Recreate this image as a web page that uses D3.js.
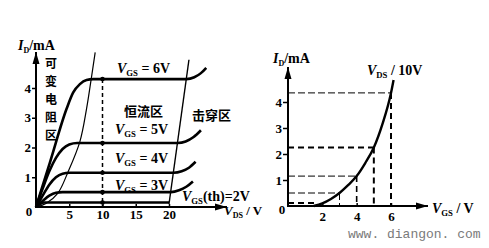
<!DOCTYPE html>
<html>
<head>
<meta charset="utf-8">
<script src="https://cdn.jsdelivr.net/npm/d3@7"></script>
<style>
  body { margin: 0; background: #fff; }
  svg { display: block; }
  .lbl { font-family: "Liberation Serif", "DejaVu Serif", serif; font-weight: bold; fill: #000; }
  .cn { font-family: "Noto Sans CJK SC", sans-serif; font-weight: bold; fill: #000; }
  .tick text { font-family: "Liberation Serif", serif; font-weight: bold; font-size: 13px; fill: #000; }
  .tick line { stroke: #000; stroke-width: 1.5; }
  .wm { font-family: "Liberation Mono", monospace; font-size: 13px; fill: #7a7a7a; }
</style>
</head>
<body>
<svg id="chart" width="489" height="248"></svg>
<script>
// ── DATA: output characteristics, I_D (mA) vs V_DS (V) ─────────────────
const vdsTicks = [5, 10, 15, 20];
const idTicks = [1, 2, 3, 4];
const vgs6 = [[0,0],[2.1,1.5],[4.6,3.3],[5.6,3.85],[6.6,4.13],[7.6,4.27],[8.6,4.3],[22.6,4.3],[23.8,4.36],[24.8,4.5],[25.6,4.68]];
const vgs5 = [[0,0],[1,0.62],[2,1.2],[3,1.65],[4,1.95],[5,2.1],[6.2,2.15],[21.3,2.15],[22.5,2.2],[23.7,2.35],[24.8,2.58]];
const vgs4 = [[0,0],[1,0.38],[2,0.75],[3,1.0],[4,1.12],[5,1.15],[20.7,1.15],[21.9,1.2],[23,1.32],[24,1.52]];
const vgs3 = [[0,0],[1,0.2],[2,0.38],[3,0.48],[4,0.5],[20.3,0.5],[21.5,0.56],[22.6,0.68],[23.6,0.86]];
const vgs2 = [[0,0],[0.6,0.1],[1.3,0.15],[20,0.15]];
const pinchOff = [[0,0],[1.5,0.12],[3.3,0.47],[4.8,1.17],[6.6,2.2],[7.6,3.3],[8.3,4.3],[8.9,5.2]];
const breakdown = [[20,0.1],[23,4.95]];
const vdsMark = 10;
const markIds = [4.3, 2.15, 1.15, 0.5, 0.15];

// ── DATA: transfer characteristic, I_D (mA) vs V_GS (V) at V_DS = 10V ──
const vgsTicks = [2, 4, 6];
const transferVgs = [1.5, 2, 2.5, 3, 3.5, 4, 4.5, 5, 5.5, 6, 6.15];
const transferId  = [0, 0.1, 0.27, 0.5, 0.8, 1.15, 1.65, 2.25, 3.15, 4.35, 4.85];
const guideVgs = [1.7, 3, 4, 5, 6];
const guideId  = [0.12, 0.5, 1.15, 2.25, 4.35];

const svg = d3.select('#chart');
const fmt = d3.format('d');

// ── LEFT CHART ─────────────────────────────────────────────────────────
const xL = d3.scaleLinear().domain([0, 20]).range([36, 169]);
const yL = d3.scaleLinear().domain([0, 4]).range([207, 88]);
const gL = svg.append('g');

const lineL = d3.line().x(d => xL(d[0])).y(d => yL(d[1])).curve(d3.curveMonotoneX);

// vertical dashed line at V_DS = 10
gL.append('line')
  .attr('x1', xL(vdsMark)).attr('x2', xL(vdsMark))
  .attr('y1', yL(markIds[0])).attr('y2', yL(0))
  .attr('stroke', '#000').attr('stroke-width', 1.5).attr('stroke-dasharray', '4 3');

// pinch-off locus and breakdown boundary (thin)
gL.append('path')
  .attr('d', d3.line().x(d => xL(d[0])).y(d => yL(d[1])).curve(d3.curveCatmullRom)(pinchOff))
  .attr('fill', 'none').attr('stroke', '#000').attr('stroke-width', 1.2);
gL.append('path')
  .attr('d', d3.line().x(d => xL(d[0])).y(d => yL(d[1]))(breakdown))
  .attr('fill', 'none').attr('stroke', '#000').attr('stroke-width', 1.4);

[vgs6, vgs5, vgs4, vgs3, vgs2].forEach(c => {
  gL.append('path').attr('d', lineL(c))
    .attr('fill', 'none').attr('stroke', '#000').attr('stroke-width', 2.6);
});

gL.selectAll('circle.mk').data(markIds).join('circle').attr('class', 'mk')
  .attr('cx', xL(vdsMark)).attr('cy', d => yL(d)).attr('r', 2.3).attr('fill', '#000');

// axes
const xAxL = gL.append('g').attr('transform', `translate(0,${yL(0)})`)
  .call(d3.axisBottom(xL).tickValues(vdsTicks).tickFormat(fmt).tickSize(-3).tickPadding(3));
xAxL.select('.domain').remove();
const yAxL = gL.append('g').attr('transform', `translate(${xL(0)},0)`)
  .call(d3.axisLeft(yL).tickValues(idTicks).tickFormat(fmt).tickSize(4).tickPadding(1));
yAxL.select('.domain').remove();

function arrowAxis(g, x1, y1, x2, y2) {
  g.append('line').attr('x1', x1).attr('y1', y1).attr('x2', x2).attr('y2', y2)
    .attr('stroke', '#000').attr('stroke-width', 2);
  const a = Math.atan2(y2 - y1, x2 - x1), L = 12, W = 3.5;
  const bx = x2 - L * Math.cos(a), by = y2 - L * Math.sin(a);
  const px = -Math.sin(a) * W, py = Math.cos(a) * W;
  g.append('path')
    .attr('d', `M${x2},${y2}L${bx + px},${by + py}L${bx - px},${by - py}Z`)
    .attr('fill', '#000');
}
arrowAxis(gL, xL(0), yL(0) + 1, xL(0), 52);
arrowAxis(gL, xL(0) - 1, yL(0), 227, yL(0));

gL.append('text').attr('class', 'lbl').attr('x', 29).attr('y', 216)
  .attr('text-anchor', 'middle').attr('font-size', 13).text('0');

// labels
function vLabel(g, x, y, sub, rest, size) {
  const t = g.append('text').attr('class', 'lbl').attr('x', x).attr('y', y).attr('font-size', size);
  t.append('tspan').attr('font-style', 'italic').text('V');
  t.append('tspan').attr('font-size', size * 0.62).attr('dy', 3).text(sub);
  t.append('tspan').attr('dy', -3).text(rest);
  return t;
}
const yAxisTitle = (g, x, y) => {
  const t = g.append('text').attr('class', 'lbl').attr('x', x).attr('y', y).attr('font-size', 14);
  t.append('tspan').attr('font-style', 'italic').text('I');
  t.append('tspan').attr('font-size', 8).attr('dy', 3).text('D');
  t.append('tspan').attr('dy', -3).text('/mA');
};
yAxisTitle(gL, 18, 50);

['可', '变', '电', '阻', '区'].forEach((c, i) => {
  gL.append('text').attr('class', 'cn').attr('x', 51).attr('y', 68 + i * 18)
    .attr('text-anchor', 'middle').attr('font-size', 12).text(c);
});
gL.append('text').attr('class', 'cn').attr('x', 124).attr('y', 116).attr('font-size', 13).text('恒流区');
gL.append('text').attr('class', 'cn').attr('x', 192).attr('y', 120).attr('font-size', 13).text('击穿区');

vLabel(gL, 117, 73, 'GS', ' = 6V', 14);
vLabel(gL, 115, 134, 'GS', ' = 5V', 14);
vLabel(gL, 115, 163, 'GS', ' = 4V', 14);
vLabel(gL, 115, 190, 'GS', ' = 3V', 14);
vLabel(gL, 182, 201, 'GS', '(th)=2V', 14);
vLabel(gL, 224, 215, 'DS', ' / V', 13);

// ── RIGHT CHART ────────────────────────────────────────────────────────
const xR = d3.scaleLinear().domain([0, 6]).range([288, 391]);
const yR = d3.scaleLinear().domain([0, 4]).range([206, 102]);
const gR = svg.append('g');

const thickH = [true, false, false, true, false];
const thickV = [0, 1, 1.6, 2, 2];
guideId.forEach((v, i) => {
  const w = thickH[i] ? 2 : 1;
  gR.append('line')
    .attr('x1', xR(0)).attr('x2', xR(guideVgs[i]))
    .attr('y1', yR(v)).attr('y2', yR(v))
    .attr('stroke', '#000').attr('stroke-width', w)
    .attr('stroke-dasharray', thickH[i] ? '6 4' : '7 3');
  if (i > 0) {
    gR.append('line')
      .attr('x1', xR(guideVgs[i])).attr('x2', xR(guideVgs[i]))
      .attr('y1', yR(v)).attr('y2', yR(0))
      .attr('stroke', '#000').attr('stroke-width', thickV[i])
      .attr('stroke-dasharray', thickV[i] > 1 ? '6 4' : '7 3');
  }
});

gR.append('path')
  .attr('d', d3.line().x(d => xR(d)).y((d, i) => yR(transferId[i])).curve(d3.curveMonotoneX)(transferVgs))
  .attr('fill', 'none').attr('stroke', '#000').attr('stroke-width', 2.4);

const xAxR = gR.append('g').attr('transform', `translate(0,${yR(0)})`)
  .call(d3.axisBottom(xR).tickValues(vgsTicks).tickFormat(fmt).tickSize(-3).tickPadding(6));
xAxR.select('.domain').remove();
const yAxR = gR.append('g').attr('transform', `translate(${xR(0)},0)`)
  .call(d3.axisLeft(yR).tickValues(idTicks).tickFormat(fmt).tickSize(5).tickPadding(1));
yAxR.select('.domain').remove();

arrowAxis(gR, xR(0), yR(0) + 1, xR(0), 67);
arrowAxis(gR, xR(0) - 1, yR(0), 428, yR(0));

gR.append('text').attr('class', 'lbl').attr('x', 282).attr('y', 214)
  .attr('text-anchor', 'middle').attr('font-size', 13).text('0');

yAxisTitle(gR, 273, 63);
vLabel(gR, 367, 75, 'DS', ' / 10V', 14);
vLabel(gR, 432, 213, 'GS', ' / V', 14);

svg.append('text').attr('class', 'wm').attr('x', 348).attr('y', 238).text('www. diangon. com');
</script>
</body>
</html>
